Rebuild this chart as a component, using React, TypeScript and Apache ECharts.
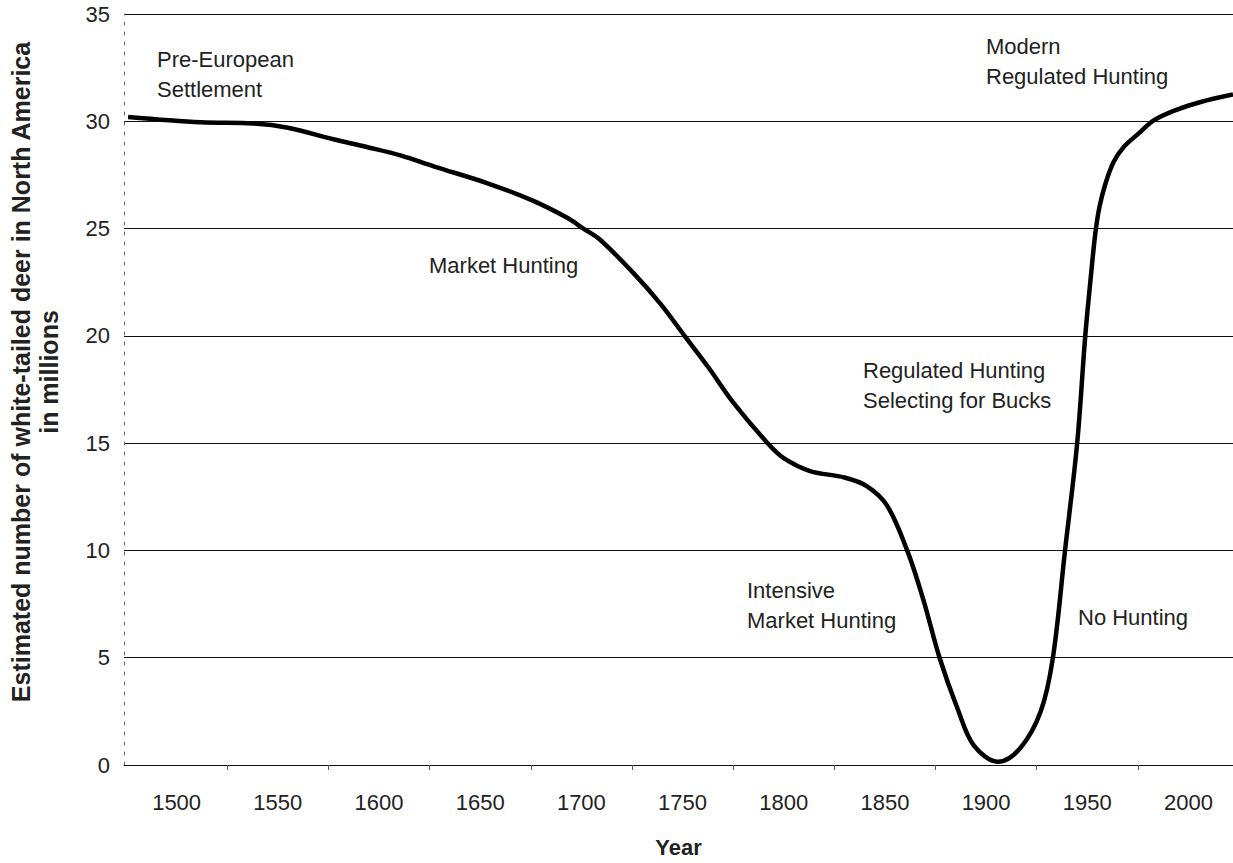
import React, { useEffect, useRef } from "react";
import * as echarts from "echarts";

const years = [
  1476, 1512, 1538, 1555, 1578, 1594, 1611, 1627, 1654, 1676, 1693, 1701, 1709,
  1726, 1739, 1751, 1763, 1775, 1792, 1800, 1813, 1830, 1841, 1851, 1861, 1869,
  1877, 1886, 1894, 1906, 1917, 1927, 1933, 1939, 1945, 1949, 1952, 1954, 1956,
  1959, 1963, 1968, 1975, 1983, 1993, 2006, 2022,
];
const deerMillions = [
  30.2, 29.95, 29.9, 29.7, 29.15, 28.8, 28.4, 27.9, 27.1, 26.3, 25.5, 25.0, 24.5,
  22.9, 21.5, 20.0, 18.5, 16.9, 15.0, 14.3, 13.7, 13.4, 13.0, 12.1, 10.0, 7.7,
  5.0, 2.6, 0.9, 0.15, 0.8, 2.5, 5.0, 10.0, 15.0, 20.0, 23.0, 24.8, 26.0,
  27.1, 28.1, 28.8, 29.4, 30.05, 30.5, 30.9, 31.25,
];
const yearLabels = [1500, 1550, 1600, 1650, 1700, 1750, 1800, 1850, 1900, 1950, 2000];
const yearTicks = [1525, 1575, 1625, 1675, 1725, 1775, 1825, 1875, 1925, 1975];

const annotations = [
  { text: "Pre-European\nSettlement", x: 157, y: 74 },
  { text: "Market Hunting", x: 429, y: 265 },
  { text: "Modern\nRegulated Hunting", x: 986, y: 61 },
  { text: "Regulated Hunting\nSelecting for Bucks", x: 863, y: 385 },
  { text: "Intensive\nMarket Hunting", x: 747, y: 605 },
  { text: "No Hunting", x: 1078, y: 617 },
];

const FONT = "'Liberation Sans', Arial, Helvetica, sans-serif";

export default function App() {
  const ref = useRef<HTMLDivElement>(null);
  useEffect(() => {
    if (!ref.current) return;
    const chart = echarts.init(ref.current, null, { renderer: "svg" });
    const data = years.map((y, i) => [y, deerMillions[i]]);
    chart.setOption({
      animation: false,
      backgroundColor: "#ffffff",
      grid: { left: 124, right: 0, top: 14, bottom: 95 },
      xAxis: {
        type: "value",
        min: 1474,
        max: 2022,
        name: "Year",
        nameLocation: "middle",
        nameGap: 71,
        nameTextStyle: { fontFamily: FONT, fontWeight: "bold", fontSize: 22, color: "#222" },
        axisLine: { show: true, lineStyle: { color: "#111", width: 1 } },
        axisTick: {
          show: true,
          customValues: yearTicks,
          length: 5,
          lineStyle: { color: "#555", width: 1 },
        },
        axisLabel: {
          customValues: yearLabels,
          formatter: (v: number) => String(v),
          margin: 26,
          fontFamily: FONT,
          fontSize: 22,
          color: "#222",
        },
        splitLine: { show: false },
      },
      yAxis: {
        type: "value",
        min: 0,
        max: 35,
        interval: 5,
        axisLine: { show: true, lineStyle: { color: "#666", width: 1, type: [3, 7] } },
        axisTick: { show: false },
        axisLabel: { margin: 14, fontFamily: FONT, fontSize: 22, color: "#222" },
        splitLine: { show: true, lineStyle: { color: "#111", width: 1 } },
      },
      graphic: [
        {
          type: "text",
          x: 35,
          y: 372,
          rotation: Math.PI / 2,
          style: {
            text: "Estimated number of white-tailed deer in North America\nin millions",
            font: "bold 25px " + FONT,
            fill: "#222",
            align: "center",
            verticalAlign: "middle",
            lineHeight: 28,
          },
        },
        ...annotations.map((a) => ({
          type: "text",
          x: a.x,
          y: a.y,
          style: {
            text: a.text,
            font: "22px " + FONT,
            fill: "#222",
            align: "left",
            verticalAlign: "middle",
            lineHeight: 30,
          },
        })),
      ],
      series: [
        {
          type: "line",
          data,
          showSymbol: false,
          smooth: 0.35,
          lineStyle: { color: "#000", width: 4.5 },
        },
      ],
    });
    return () => chart.dispose();
  }, []);
  return (
    <div
      ref={ref}
      style={{ position: "absolute", left: 0, top: 0, width: 1233, height: 863 }}
    />
  );
}
